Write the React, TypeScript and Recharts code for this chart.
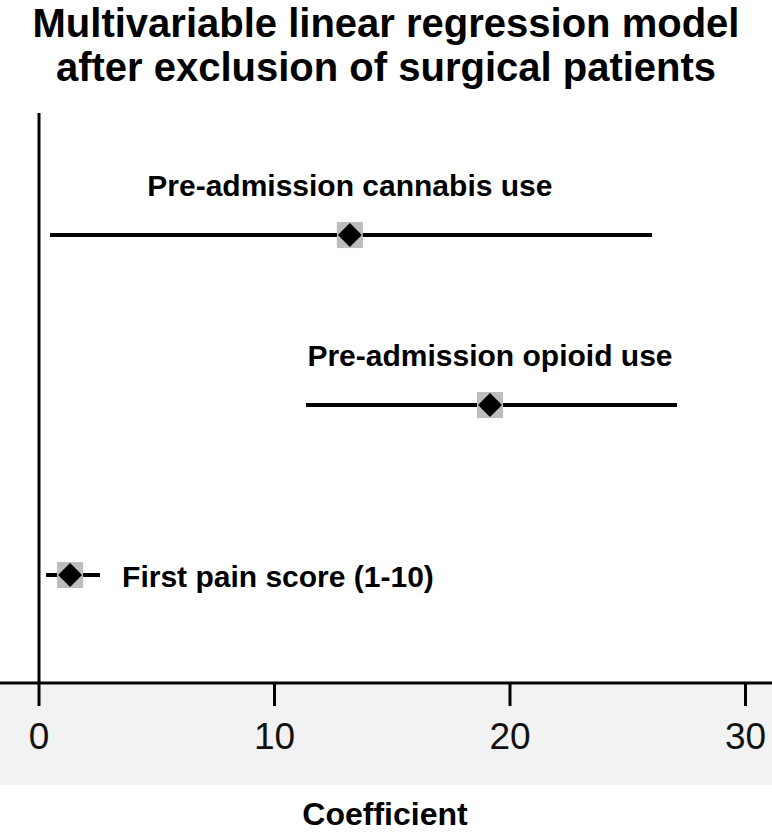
import React from 'react';
import { ScatterChart, Scatter, XAxis, YAxis, ErrorBar, ReferenceLine } from 'recharts';

const categories = ['Pre-admission cannabis use', 'Pre-admission opioid use', 'First pain score (1-10)'];
const rowPositions = [3, 2, 1];
const estimates = [13.2, 19.15, 1.32];
const lowerCI = [0.47, 11.34, 0.3];
const upperCI = [26.03, 27.09, 2.59];
const xTicks = [0, 10, 20, 30];

const data = categories.map((name, i) => ({
  name,
  y: rowPositions[i],
  x: estimates[i],
  err: [estimates[i] - lowerCI[i], upperCI[i] - estimates[i]],
  side: i < 2 ? 'top' : 'right',
}));

const FONT = '"Liberation Sans", Arial, Helvetica, sans-serif';

const Marker = (props: any) => {
  const { cx, cy, payload } = props;
  if (cx == null || cy == null) return null;
  const s = 13;
  const d = 12;
  const isTop = payload.side === 'top';
  return (
    <g>
      <rect x={cx - s} y={cy - s} width={2 * s} height={2 * s} fill="#bdbdbd" />
      <path d={`M${cx - d},${cy} L${cx},${cy - d} L${cx + d},${cy} L${cx},${cy + d} Z`} fill="#000" />
      <text
        x={isTop ? cx : cx + 52}
        y={isTop ? cy - 39 : cy + 12}
        textAnchor={isTop ? 'middle' : 'start'}
        fontFamily={FONT}
        fontWeight="bold"
        fontSize={30}
        fill="#000"
      >
        {payload.name}
      </text>
    </g>
  );
};

export default function App() {
  return (
    <div style={{ position: 'absolute', left: 0, top: 0, width: 772, height: 833, background: '#fff', overflow: 'hidden' }}>
      <div style={{ position: 'absolute', left: 0, top: 684, width: 772, height: 101, background: '#f2f2f2' }} />
      <svg width={772} height={833} style={{ position: 'absolute', left: 0, top: 0 }}>
        <text x={386} y={37} textAnchor="middle" fontFamily={FONT} fontWeight="bold" fontSize={40} fill="#000">
          Multivariable linear regression model
        </text>
        <text x={386} y={81} textAnchor="middle" fontFamily={FONT} fontWeight="bold" fontSize={40} fill="#000">
          after exclusion of surgical patients
        </text>
        <text x={385} y={825} textAnchor="middle" fontFamily={FONT} fontWeight="bold" fontSize={32} fill="#000">
          Coefficient
        </text>
      </svg>
      <div style={{ position: 'absolute', left: 0, top: 0 }}>
        <ScatterChart width={772} height={833} margin={{ top: 113, right: 0, bottom: 0, left: 0 }}>
          <XAxis
            type="number"
            dataKey="x"
            domain={[-1.656, 31.125]}
            ticks={xTicks}
            interval={0}
            allowDataOverflow
            axisLine={{ stroke: '#000', strokeWidth: 3 }}
            tickLine={{ stroke: '#000', strokeWidth: 3 }}
            tickSize={23}
            tickMargin={17}
            tick={{ fontSize: 37, fill: '#111', fontFamily: FONT }}
            height={150}
          />
          <YAxis type="number" dataKey="y" domain={[0.365, 3.718]} hide allowDataOverflow />
          <ReferenceLine x={0} stroke="#000" strokeWidth={3} />
          <Scatter data={data} shape={<Marker />} isAnimationActive={false}>
            <ErrorBar dataKey="err" direction="x" width={0} stroke="#000" strokeWidth={4} />
          </Scatter>
        </ScatterChart>
      </div>
    </div>
  );
}
